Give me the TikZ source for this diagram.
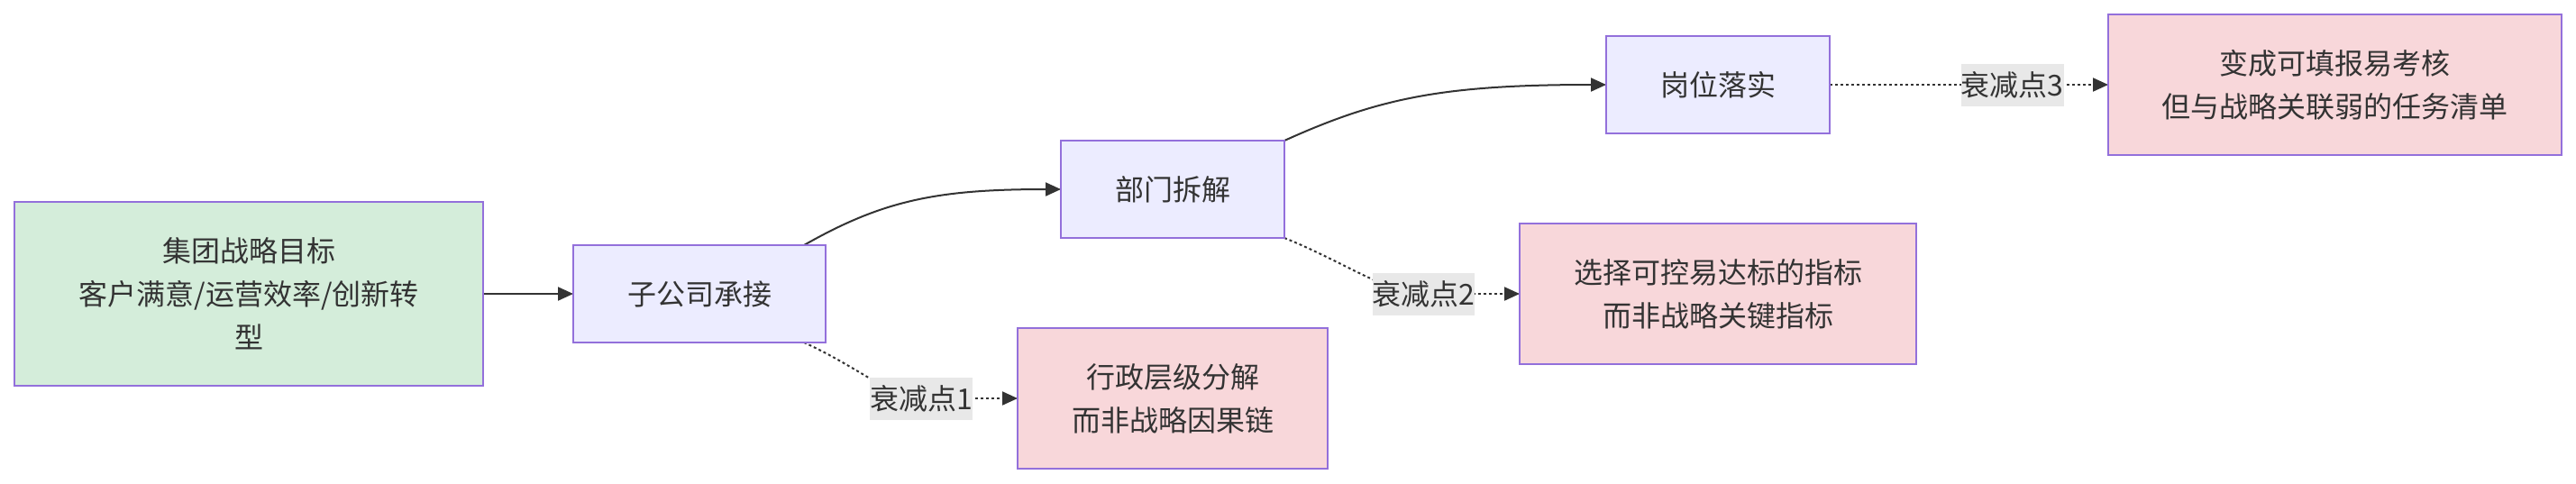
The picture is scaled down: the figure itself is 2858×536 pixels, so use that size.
\documentclass[tikz,border=0pt]{standalone}
\usepackage{fontspec}
\setmainfont{Noto Sans CJK SC}
\usetikzlibrary{arrows.meta,calc}
\definecolor{txt}{HTML}{333333}
\definecolor{stk}{HTML}{9370DB}
\definecolor{lav}{HTML}{ECECFF}
\definecolor{grn}{HTML}{D4EDDA}
\definecolor{pnk}{HTML}{F8D7DA}
\definecolor{lbg}{HTML}{E8E8E8}
\pgfdeclarelayer{bg}
\pgfsetlayers{bg,main}
\begin{document}
\begin{tikzpicture}[x=1pt,y=-1pt,
  box/.style={draw=stk,line width=2pt,text=txt,align=center,inner sep=0pt,outer sep=0pt,font=\fontsize{32}{48}\selectfont},
  proc/.style={box,fill=lav,minimum height=108pt},
  goal/.style={box,fill=grn},
  risk/.style={box,fill=pnk,minimum height=156pt},
  lab/.style={fill=lbg,text=txt,inner sep=0pt,outer sep=0pt,minimum height=47pt,font=\fontsize{32}{48}\selectfont},
  flowline/.style={draw=txt,line width=2pt},
  dotline/.style={draw=txt,line width=2pt,dash pattern=on 3pt off 3pt},
  tip/.style={-{Triangle[length=17pt,width=15pt]}},
]
\useasboundingbox (0,0) rectangle (2858,536);

\node[goal,minimum width=520pt,minimum height=204pt] (A) at (276.3,326) {集团战略目标\\客户满意/运营效率/创新转\\型};
\node[proc,minimum width=280pt] (B) at (776,326) {子公司承接};
\node[proc,minimum width=248pt] (C) at (1301,210) {部门拆解};
\node[risk,minimum width=344pt] (D1) at (1301,442) {行政层级分解\\而非战略因果链};
\node[proc,minimum width=248pt] (E) at (1906,94) {岗位落实};
\node[risk,minimum width=440pt] (D2) at (1906,326) {选择可控易达标的指标\\而非战略关键指标};
\node[risk,minimum width=503pt] (F3) at (2590.5,94) {变成可填报易考核\\但与战略关联弱的任务清单};

\node[lab] (L1) at (1022,442) {衰减点1};
\node[lab] (L2) at (1579.5,326) {衰减点2};
\node[lab] (L3) at (2232.7,94) {衰减点3};

\begin{pgfonlayer}{bg}
\draw[flowline,tip] (A.east) -- (B.west);
\draw[flowline,tip] ($(B.north east)+(-24,0)$) .. controls +(88,-50) and +(-137,0) .. (C.west);
\draw[flowline,tip] (C.north east) .. controls +(104,-47) and +(-182,0) .. (E.west);
\draw[dotline] ($(B.south east)+(-24,0)$) .. controls +(58,26) and +(-32,0) .. (L1.center);
\draw[dotline,tip] (L1.center) -- (D1.west);
\draw[dotline] (C.south east) .. controls +(65,26) and +(-40,0) .. (L2.center);
\draw[dotline,tip] (L2.center) -- (D2.west);
\draw[dotline] (E.east) -- (L3.center);
\draw[dotline,tip] (L3.center) -- (F3.west);
\end{pgfonlayer}
\end{tikzpicture}
\end{document}
